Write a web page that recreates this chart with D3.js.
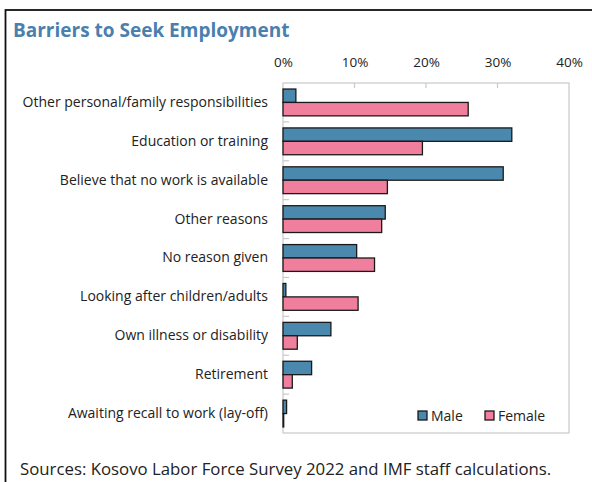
<!DOCTYPE html>
<html><head><meta charset="utf-8">
<script src="https://cdn.jsdelivr.net/npm/d3@7"></script>
<style>
body{margin:0;background:#fff;}
svg{display:block;font-family:"Open Sans",sans-serif;}
</style></head>
<body><svg id="c" width="592" height="482"></svg>
<script>
const categories = [
  "Other personal/family responsibilities",
  "Education or training",
  "Believe that no work is available",
  "Other reasons",
  "No reason given",
  "Looking after children/adults",
  "Own illness or disability",
  "Retirement",
  "Awaiting recall to work (lay-off)"
];
const male   = [1.8, 32.0, 30.8, 14.3, 10.3, 0.4, 6.7, 4.0, 0.5];
const female = [25.9, 19.5, 14.6, 13.8, 12.8, 10.5, 2.0, 1.3, 0.1];
const series = ["Male", "Female"];
const tickValues = [0, 10, 20, 30, 40];
const colors = {Male: "#4a88ad", Female: "#f07f9e"};

const svg = d3.select("#c");
// outer frame
svg.append("rect").attr("x",5.5).attr("y",10).attr("width",620).attr("height",520)
  .attr("fill","none").attr("stroke","#111").attr("stroke-width",1.8);

svg.append("text").attr("x",13).attr("y",37).text("Barriers to Seek Employment")
  .attr("font-size",19).attr("font-weight","bold").attr("fill","#4a7fae");

const L = 283, R = 569, T = 83, B = 433;
const x = d3.scaleLinear().domain([0,40]).range([L,R]);
const y = d3.scaleBand().domain(categories).range([T,B]);
const inner = d3.scaleBand().domain(series).range([0, y.bandwidth()]).paddingOuter(0.45).paddingInner(0);

// plot border
svg.append("rect").attr("x",L).attr("y",T).attr("width",R-L).attr("height",B-T)
  .attr("fill","none").attr("stroke","#c9c9c9").attr("stroke-width",1.2);

// top axis
const xAxis = d3.axisTop(x).tickValues(tickValues).tickFormat(d=>d+"%").tickSize(0).tickPadding(0);
const gx = svg.append("g").attr("transform",`translate(0,${T})`).call(xAxis);
gx.select(".domain").remove();
gx.selectAll("text").attr("y",-16).attr("font-size",13.5).attr("fill","#222").attr("font-family","Open Sans");
// inward top ticks
svg.append("g").selectAll("line").data(tickValues.slice(1,4)).join("line")
  .attr("x1",d=>x(d)).attr("x2",d=>x(d)).attr("y1",T).attr("y2",T+5)
  .attr("stroke","#c9c9c9").attr("stroke-width",1.2);
// left category ticks
svg.append("g").selectAll("line").data(categories.slice(1)).join("line")
  .attr("x1",L).attr("x2",L+6).attr("y1",d=>y(d)).attr("y2",d=>y(d))
  .attr("stroke","#c9c9c9").attr("stroke-width",1.2);

// left labels
const yAxis = d3.axisLeft(y).tickSize(0).tickPadding(15);
const gy = svg.append("g").attr("transform",`translate(${L},0)`).call(yAxis);
gy.select(".domain").remove();
gy.selectAll("text").attr("font-size",14).attr("fill","#222").attr("font-family","Open Sans");

// bars
const data = [];
categories.forEach((c,i)=>{ data.push({c, s:"Male", v:male[i]}); data.push({c, s:"Female", v:female[i]}); });
svg.append("g").selectAll("rect").data(data).join("rect")
  .attr("x",x(0)).attr("y",d=>y(d.c)+inner(d.s))
  .attr("width",d=>x(d.v)-x(0)).attr("height",inner.bandwidth())
  .attr("fill",d=>colors[d.s]).attr("stroke","#1a1a1a").attr("stroke-width",1.3);

// legend
const lg = svg.append("g");
const lx = {Male:418, Female:485};
series.forEach(s=>{
  lg.append("rect").attr("x",lx[s]).attr("y",411).attr("width",9).attr("height",9)
    .attr("fill",colors[s]).attr("stroke","#1a1a1a").attr("stroke-width",1.3);
  lg.append("text").attr("x",lx[s]+13).attr("y",421).text(s).attr("font-size",14).attr("fill","#222");
});

svg.append("text").attr("x",20).attr("y",475)
  .text("Sources: Kosovo Labor Force Survey 2022 and IMF staff calculations.")
  .attr("font-size",16.8).attr("fill","#222");
</script></body></html>
